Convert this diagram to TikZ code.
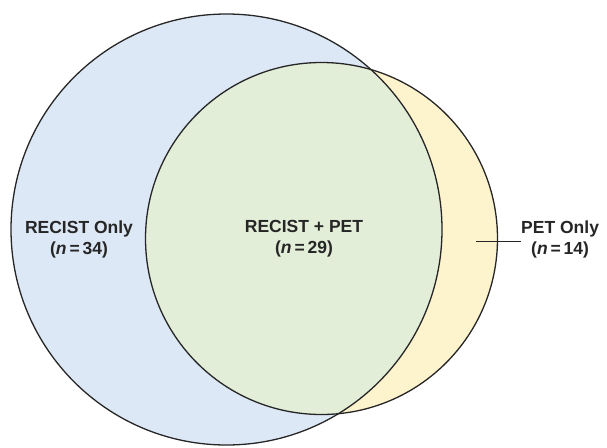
\documentclass[tikz,border=0pt]{standalone}
\usepackage{fontspec}
\setmainfont{Liberation Sans}
\begin{document}
\begin{tikzpicture}[x=1pt,y=-1pt,
  ring/.style={draw=black!85,line width=1.3pt},
  lbl/.style={font=\bfseries\fontsize{17.5}{21}\selectfont,align=center,text=black!85,inner sep=0pt}]
\useasboundingbox (0,0) rectangle (607,447);
\definecolor{cblue}{HTML}{DCE8F5}
\definecolor{cgreen}{HTML}{E2EED8}
\definecolor{cyellow}{HTML}{FDF3CD}
% fills
\fill[cblue] (226.5,229.5) circle (215.5);
\fill[cyellow] (321.5,238.5) circle (176);
\begin{scope}
  \clip (226.5,229.5) circle (215.5);
  \fill[cgreen] (321.5,238.5) circle (176);
\end{scope}
% outlines
\draw[ring] (226.5,229.5) circle (215.5);
\draw[ring] (321.5,238.5) circle (176);
% labels
\node[lbl] (recist) at (79,239) {RECIST Only\\(\textit{n}\,=\,34)};
\node[lbl] (both) at (304,239) {RECIST + PET\\(\textit{n}\,=\,29)};
\node[lbl,anchor=west] (pet) at (521,239) {PET Only\\(\textit{n}\,=\,14)};
\coordinate (petend) at (476,241.5);
\draw[black!85,line width=1.1pt] (petend) -- (pet.west |- petend);
\end{tikzpicture}
\end{document}
